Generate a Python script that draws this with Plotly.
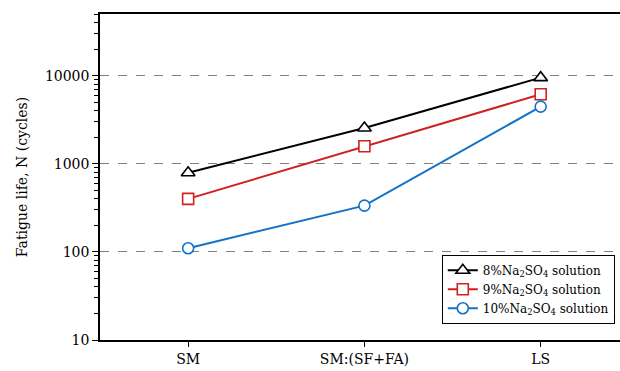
import plotly.graph_objects as go

categories = ["SM", "SM:(SF+FA)", "LS"]
na8 = [790, 2550, 9500]
na9 = [400, 1580, 6150]
na10 = [110, 335, 4450]
names = ["8%Na<sub>2</sub>SO<sub>4</sub> solution",
         "9%Na<sub>2</sub>SO<sub>4</sub> solution",
         "10%Na<sub>2</sub>SO<sub>4</sub> solution"]
minor_vals = [m * 10 ** e for e in range(1, 5) for m in range(2, 10)]

FONT = "DejaVu Serif"
fig = go.Figure()
styles = [("#000000", "triangle-up", 12), ("#D02020", "square", 11), ("#1272C6", "circle", 11)]
for vals, name, (col, sym, sz) in zip([na8, na9, na10], names, styles):
    fig.add_trace(go.Scatter(
        x=categories, y=vals, name=name, mode="lines+markers",
        line=dict(color=col, width=2),
        marker=dict(symbol=sym, size=sz, color="white", line=dict(color=col, width=1.6)),
    ))
# invisible helper trace so the minor-tick axis is drawn
fig.add_trace(go.Scatter(x=categories, y=na8, yaxis="y2", mode="markers",
                         marker=dict(size=1, color="rgba(0,0,0,0)"),
                         showlegend=False, hoverinfo="skip"))

fig.update_layout(
    width=620, height=371,
    margin=dict(l=100, r=0, t=14, b=31),
    plot_bgcolor="white", paper_bgcolor="white",
    font=dict(family=FONT, size=14, color="black"),
    showlegend=True,
    legend=dict(x=0.99, y=0.05, xanchor="right", yanchor="bottom",
                bgcolor="white", bordercolor="black", borderwidth=1,
                font=dict(family=FONT, size=12), tracegroupgap=0,
                itemwidth=30),
    xaxis=dict(
        type="category", range=[-0.5, 2.45],
        showline=True, linecolor="black", linewidth=1.5, mirror=True,
        ticks="outside", ticklen=5, tickcolor="black", showgrid=False,
        tickfont=dict(family=FONT, size=14),
    ),
    yaxis=dict(
        type="log", range=[1, 4.7],
        tickmode="linear", tick0=0, dtick=1, tickformat="d",
        showline=True, linecolor="black", linewidth=1.5,
        ticks="outside", ticklen=6, tickcolor="black",
        minor=dict(dtick="D1", ticks="outside", ticklen=4, tickcolor="black", showgrid=False),
        showgrid=True, gridcolor="#808080", griddash="dash", gridwidth=1.3,
        tickfont=dict(family=FONT, size=14),
        title=dict(text="Fatigue life, N (cycles)", font=dict(family=FONT, size=14), standoff=14),
        zeroline=False,
    ),
    yaxis2=dict(type="log", range=[1, 4.7], overlaying="y", side="left", anchor="x",
                tickmode="array", tickvals=minor_vals, showticklabels=False,
                ticks="outside", ticklen=4, tickwidth=1, tickcolor="black", showgrid=False,
                showline=False, zeroline=False),
)
fig.write_html("out.html")
